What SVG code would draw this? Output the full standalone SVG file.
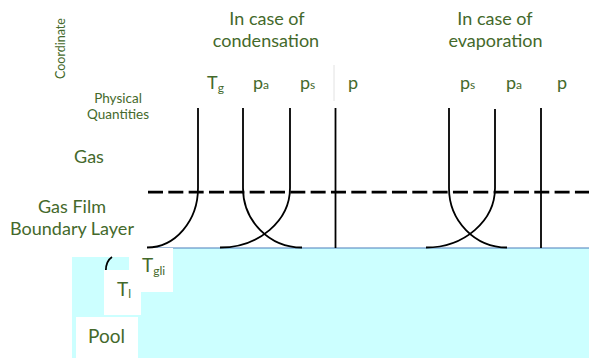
<svg xmlns="http://www.w3.org/2000/svg" width="589" height="358" viewBox="0 0 589 358">
<style>
text{font-family:Lato,"Liberation Sans",sans-serif;fill:#44692b}
.c{stroke:#000;stroke-width:1.8;fill:none}
.t{text-anchor:middle}
.sub{font-size:12px}
</style>
<rect width="589" height="358" fill="#fff"/>
<g id="pool">
<path d="M72,257 H129 V248 H589 V358 H72 Z" fill="#ccffff"/>
<line x1="147" y1="248" x2="589" y2="248" stroke="#4a7ebb" stroke-width="1.2"/>
<path class="c" d="M105.8,271 C105.8,265 107.5,260 112,257"/>
<rect x="129" y="248" width="44" height="44" fill="#fff"/>
<rect x="104" y="270" width="37" height="45" fill="#fff"/>
<rect x="76" y="317" width="62" height="41" fill="#fff"/>
<text x="142" y="272" font-size="19">T<tspan class="sub" dy="3">gli</tspan></text>
<text x="117" y="296" font-size="19">T<tspan class="sub" dy="2">l</tspan></text>
<text class="t" x="106.5" y="343" font-size="19">Pool</text>
</g>
<g id="axis-labels">
<text class="t" transform="translate(65,48.5) rotate(-90)" font-size="12.5">Coordinate</text>
<text class="t" x="118" y="103" font-size="13.5">Physical</text>
<text class="t" x="118" y="119" font-size="13.5">Quantities</text>
<text class="t" x="89" y="163" font-size="18">Gas</text>
<text class="t" x="72" y="213" font-size="18">Gas Film</text>
<text class="t" x="72" y="235" font-size="18">Boundary Layer</text>
<line x1="334" y1="65" x2="334" y2="101" stroke="#e2e2e2" stroke-width="1"/>
</g>
<g id="condensation">
<text class="t" x="267" y="25" font-size="18">In case of</text>
<text class="t" x="266" y="47" font-size="18">condensation</text>
<text x="207" y="89" font-size="18">T<tspan class="sub" dy="3">g</tspan></text>
<text x="253" y="89" font-size="18">p<tspan class="sub" dy="0">a</tspan></text>
<text x="300" y="89" font-size="18">p<tspan class="sub" dy="0">s</tspan></text>
<text x="348" y="89" font-size="18">p</text>
</g>
<g id="evaporation">
<text class="t" x="495" y="25" font-size="18">In case of</text>
<text class="t" x="495.5" y="47" font-size="18">evaporation</text>
<text x="460" y="89" font-size="18">p<tspan class="sub">s</tspan></text>
<text x="506" y="89" font-size="18">p<tspan class="sub">a</tspan></text>
<text x="557" y="89" font-size="18">p</text>
</g>
<g id="profiles">
<line x1="148" y1="192" x2="589" y2="192" stroke="#000" stroke-width="2.75" stroke-dasharray="15 5.33"/>
<path class="c" d="M198,108 V188 A51 59.5 0 0 1 147,247.5"/>
<path class="c" d="M243,108 V188 A59 59.5 0 0 0 302,247.5"/>
<path class="c" d="M290,108 V188 A70 59.5 0 0 1 220,247.5"/>
<line class="c" x1="335.5" y1="108" x2="335.5" y2="248"/>
<path class="c" d="M449,108 V188 A58 59.5 0 0 0 507,247.5"/>
<path class="c" d="M495,109 V188 A69 59.5 0 0 1 426,247.5"/>
<line class="c" x1="541" y1="108" x2="541" y2="248"/>
</g>
</svg>
